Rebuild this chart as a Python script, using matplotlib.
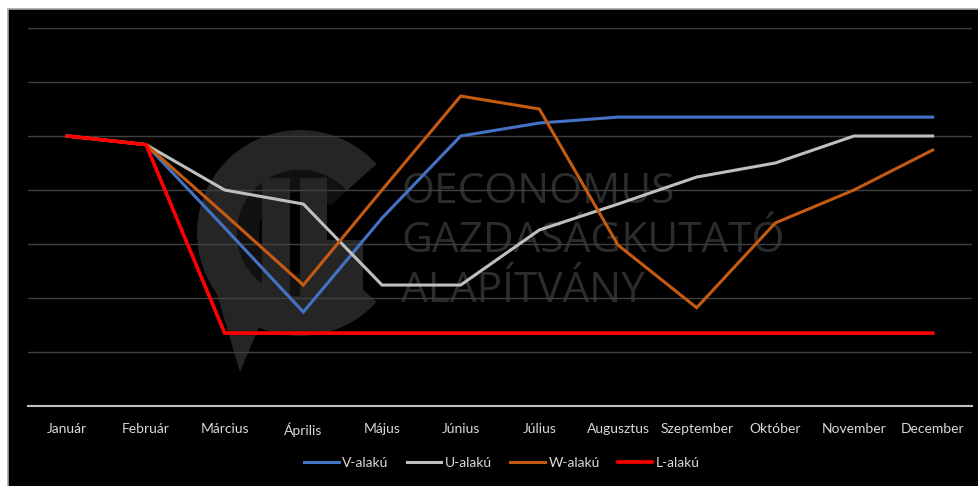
import matplotlib
matplotlib.use("Agg")
import matplotlib.pyplot as plt
from matplotlib.patches import Rectangle, Wedge, Polygon

# data (arbitrary units, no y labels shown)
months = ["Január", "Február", "Március", "Április", "Május", "Június",
          "Július", "Augusztus", "Szeptember", "Október", "November", "December"]
v_shape = [5.0, 4.84, 3.30, 1.74, 3.48, 5.0, 5.24, 5.35, 5.35, 5.35, 5.35, 5.35]
u_shape = [5.0, 4.84, 4.0, 3.74, 2.24, 2.24, 3.26, 3.74, 4.24, 4.5, 5.0, 5.0]
w_shape = [5.0, 4.84, 3.55, 2.24, 4.0, 5.74, 5.5, 2.98, 1.82, 3.39, 4.0, 4.74]
l_shape = [5.0, 4.84, 1.35, 1.35, 1.35, 1.35, 1.35, 1.35, 1.35, 1.35, 1.35, 1.35]
series_names = ["V-alakú", "U-alakú", "W-alakú", "L-alakú"]
series_colors = ["#4472C4", "#BFBFBF", "#C55A11", "#FF0000"]

W, H = 979, 486
fig = plt.figure(figsize=(W / 100, H / 100), dpi=100)
fig.patch.set_facecolor("white")

# background layer in pixel coords: black panel + watermark
bg = fig.add_axes([0, 0, 1, 1], zorder=0)
bg.set_xlim(0, W)
bg.set_ylim(H, 0)
bg.axis("off")
bg.add_patch(Rectangle((8, 9), W + 20, H + 20, facecolor="black",
                       edgecolor="#a6a6a6", linewidth=1.2, clip_on=True))

wm = "#252525"
bg.add_patch(Wedge((300, 233), 103, 42, 318, width=40, facecolor=wm, edgecolor="none"))
bg.add_patch(Wedge((300, 233), 63, 42, 318, width=22, facecolor="#111111", edgecolor="none"))
bg.add_patch(Polygon([[215, 288], [262, 320], [240, 372]], closed=True,
                     facecolor=wm, edgecolor="none"))
bg.add_patch(Rectangle((262, 178), 28, 125, facecolor=wm, edgecolor="none"))
bg.add_patch(Rectangle((300, 178), 27, 124, facecolor=wm, edgecolor="none"))
bg.add_patch(Rectangle((327, 240), 36, 62, facecolor=wm, edgecolor="none"))
for txt, yb in [("OECONOMUS", 203), ("GAZDASÁGKUTATÓ", 252), ("ALAPÍTVÁNY", 302)]:
    bg.text(401, yb, txt, fontsize=30.5, family="Open Sans", color="#2c2c2c",
            ha="left", va="baseline")

# main chart
ax = fig.add_axes([28 / W, 1 - 406 / H, (972 - 28) / W, (406 - 28) / H], zorder=1)
ax.set_facecolor("none")
x = list(range(len(months)))
for vals, name, col in zip([v_shape, u_shape, w_shape, l_shape], series_names, series_colors):
    lw = 2.6 if name == "L-alakú" else 2.2
    ax.plot(x, vals, color=col, linewidth=lw, label=name, solid_joinstyle="miter")

ax.set_xlim(-0.5, len(months) - 0.5)
ax.set_ylim(0, 7)
ax.set_yticks(range(1, 8))
ax.yaxis.grid(True, color="#404040", linewidth=1)
ax.set_axisbelow(True)
ax.tick_params(axis="y", left=False, labelleft=False)
ax.set_xticks(x)
ax.set_xticklabels(months, family="Lato", fontsize=10, color="#d9d9d9")
ax.tick_params(axis="x", length=0, pad=12)
for s in ["top", "right", "left"]:
    ax.spines[s].set_visible(False)
ax.spines["bottom"].set_color("#bfbfbf")
ax.spines["bottom"].set_linewidth(1.5)

leg = fig.legend(loc="center", bbox_to_anchor=(502 / W, 1 - 463 / H), ncol=4,
                 frameon=False, handlelength=2.5, handletextpad=0.25, columnspacing=1.3,
                 prop={"family": "Lato", "size": 10})
for t in leg.get_texts():
    t.set_color("#d9d9d9")

fig.savefig("out.png", dpi=100, facecolor=fig.get_facecolor())
